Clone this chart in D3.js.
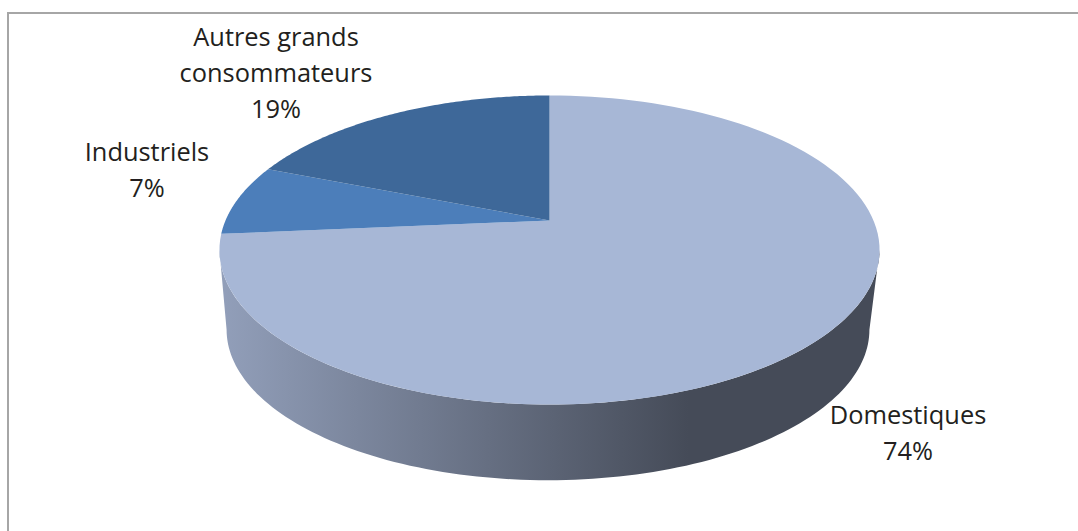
<!DOCTYPE html>
<html>
<head>
<meta charset="utf-8">
<script src="https://cdn.jsdelivr.net/npm/d3@7"></script>
<style>
  html, body { margin: 0; padding: 0; background: #fff; overflow: hidden; }
  text { font-family: "Open Sans", sans-serif; font-size: 25.4px; fill: #231f20; text-anchor: middle; }
</style>
</head>
<body>
<div id="pie-chart"></div>
<script>
// Data, clockwise from 12 o'clock
var categories = ["Domestiques", "Industriels", "Autres grands consommateurs"];
var shares = [73.6, 7.4, 19];
var labelLines = [["Domestiques"], ["Industriels"], ["Autres grands", "consommateurs"]];

var renderPie = function(config) {
  var width = 1078;
  var height = 531;

  // perspective tilt of the disc, shared by top face and base
  var tilt = 59 / 309;
  var topFace = { x: 549.5, y: 220.5, w: 324, h: 148.9 };
  var baseFace = { x: 548, y: 301, w: 315.5, h: 145 };

  var colors = ["#a7b7d6", "#4c7eba", "#3e6899"];
  var labelSpots = [
    { x: 908, y: 424 },
    { x: 147, y: 161 },
    { x: 276, y: 46 }
  ];
  var lineHeight = 36;

  var project = function(face, angle) {
    var u = Math.sin(angle);
    var v = Math.cos(angle);
    var k = 1 + tilt * v;
    return [face.x + face.w * u / k, face.y - face.h * v / k];
  };

  var svg = d3.select(config.container)
    .append("svg")
    .attr("width", width)
    .attr("height", height);

  // chart frame, right and bottom edges fall outside the picture
  svg.append("path")
    .attr("d", "M8," + height + "V13H" + width)
    .attr("fill", "none")
    .attr("stroke", "#a6a6a6")
    .attr("stroke-width", 2);

  var gradient = svg.append("defs")
    .append("linearGradient")
    .attr("id", "side-fill")
    .attr("gradientUnits", "userSpaceOnUse")
    .attr("x1", 220)
    .attr("x2", 880)
    .attr("y1", 0)
    .attr("y2", 0);
  gradient.append("stop").attr("offset", 0).attr("stop-color", "#929fba");
  gradient.append("stop").attr("offset", 0.71).attr("stop-color", "#454b58");
  gradient.append("stop").attr("offset", 1).attr("stop-color", "#454b58");

  var line = d3.line();
  var arcPoints = function(face, a0, a1) {
    var steps = 120;
    return d3.range(steps + 1).map(function(i) {
      return project(face, a0 + (a1 - a0) * i / steps);
    });
  };

  // side wall, between the widest points of the two ellipses
  var rightEdge = Math.acos(-tilt);
  var leftEdge = 2 * Math.PI - rightEdge;
  svg.append("path")
    .attr("d", line(
      arcPoints(baseFace, rightEdge, leftEdge)
        .concat(arcPoints(topFace, leftEdge, rightEdge))
    ) + "Z")
    .attr("fill", "url(#side-fill)");

  // top face
  var slices = d3.pie().sort(null)(config.values);
  svg.append("g")
    .attr("class", "slices")
    .selectAll("path")
    .data(slices)
    .enter()
    .append("path")
    .attr("d", function(d) {
      return line(
        [[topFace.x, topFace.y]].concat(arcPoints(topFace, d.startAngle, d.endAngle))
      ) + "Z";
    })
    .attr("fill", function(d, i) { return colors[i]; });

  // labels
  var labels = svg.append("g")
    .attr("class", "labels")
    .selectAll("text")
    .data(slices)
    .enter()
    .append("text")
    .attr("x", function(d, i) { return labelSpots[i].x; })
    .attr("y", function(d, i) { return labelSpots[i].y; });

  labels.each(function(d, i) {
    var rows = config.lines[i].concat(Math.round(d.value) + "%");
    d3.select(this)
      .selectAll("tspan")
      .data(rows)
      .enter()
      .append("tspan")
      .attr("x", labelSpots[i].x)
      .attr("y", function(r, j) { return labelSpots[i].y + j * lineHeight; })
      .text(function(r) { return r; });
  });
};

renderPie({
  container: "#pie-chart",
  values: shares,
  lines: labelLines
});
</script>
</body>
</html>
